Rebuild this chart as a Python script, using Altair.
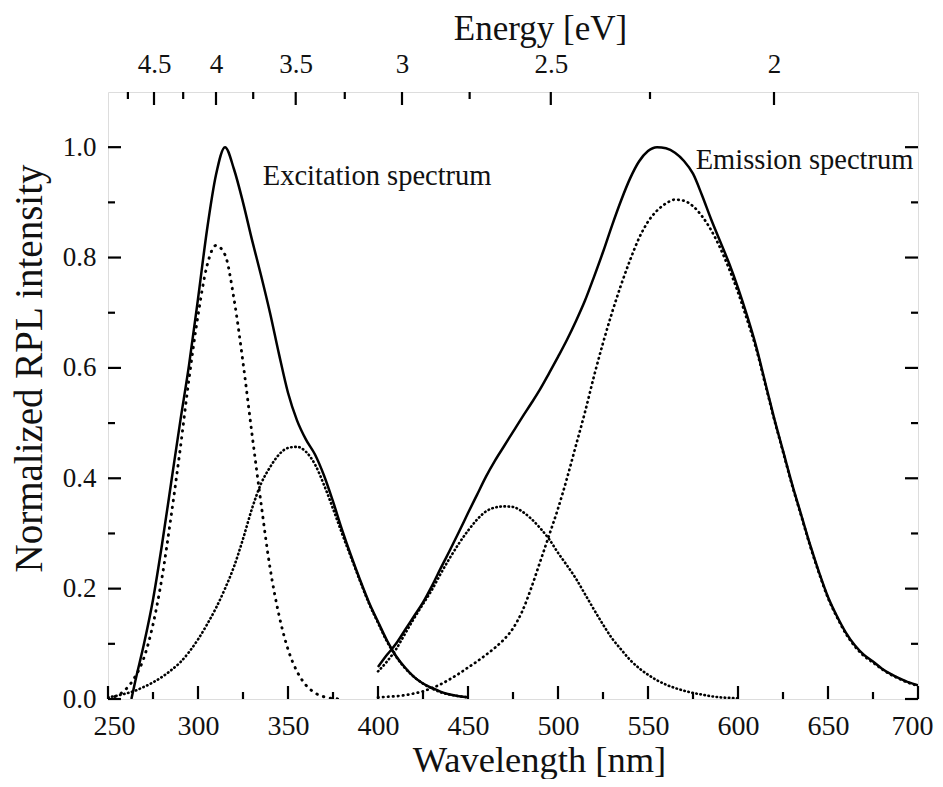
import altair as alt
import pandas as pd

# ---------------- data ----------------
# Excitation, component peaking near 310 nm (dotted)
exA_wl = [250, 255, 260, 265, 270, 275, 280, 285, 290, 295, 300, 305, 310, 315, 320,
          325, 330, 335, 340, 345, 350, 355, 360, 365, 370, 375, 380]
exA_val = [0.002, 0.006, 0.018, 0.04, 0.075, 0.135, 0.22, 0.33, 0.45, 0.58, 0.695, 0.785,
           0.822, 0.805, 0.725, 0.61, 0.48, 0.355, 0.238, 0.152, 0.09, 0.05, 0.025, 0.011,
           0.004, 0.001, 0.0]

# Excitation, component peaking near 353 nm (dotted)
exB_wl = [250, 255, 260, 265, 270, 275, 280, 285, 290, 295, 300, 305, 310, 315, 320,
          325, 330, 335, 340, 345, 350, 355, 360, 365, 370, 375, 380, 385, 390, 395,
          400, 405, 410, 415, 420, 425, 430, 435, 440, 445, 450]
exB_val = [0.003, 0.006, 0.01, 0.015, 0.022, 0.03, 0.04, 0.052, 0.066, 0.085, 0.108,
           0.135, 0.165, 0.2, 0.24, 0.29, 0.345, 0.39, 0.42, 0.443, 0.455, 0.457, 0.448,
           0.425, 0.388, 0.345, 0.3, 0.257, 0.214, 0.173, 0.138, 0.104, 0.077, 0.056,
           0.04, 0.028, 0.019, 0.012, 0.008, 0.005, 0.003]

# Excitation spectrum (solid)
exT_wl = [263, 265, 270, 275, 280, 285, 290, 295, 300, 305, 310, 315, 320, 325, 330,
          335, 340, 345, 350, 355, 360, 365, 370, 375, 380, 385, 390, 395, 400, 405,
          410, 415, 420, 425, 430, 435, 440, 445, 450]
exT_val = [0.0, 0.03, 0.1, 0.18, 0.28, 0.39, 0.5, 0.605, 0.725, 0.85, 0.95, 1.0, 0.96,
           0.9, 0.832, 0.768, 0.7, 0.625, 0.555, 0.505, 0.47, 0.443, 0.405, 0.358, 0.307,
           0.26, 0.216, 0.175, 0.14, 0.106, 0.078, 0.057, 0.04, 0.028, 0.02, 0.013,
           0.008, 0.005, 0.003]

# Emission, component peaking near 470 nm (dotted)
emC_wl = [400, 405, 410, 415, 420, 425, 430, 435, 440, 445, 450, 455, 460, 465, 470,
          475, 480, 485, 490, 495, 500, 505, 510, 515, 520, 525, 530, 535, 540, 545,
          550, 555, 560, 565, 570, 575, 580, 585, 590, 595, 600]
emC_val = [0.05, 0.068, 0.09, 0.118, 0.146, 0.172, 0.198, 0.228, 0.256, 0.282, 0.305,
           0.325, 0.34, 0.347, 0.349, 0.348, 0.34, 0.327, 0.31, 0.29, 0.265, 0.242,
           0.218, 0.19, 0.162, 0.135, 0.11, 0.09, 0.071, 0.056, 0.044, 0.034, 0.026,
           0.02, 0.015, 0.011, 0.008, 0.005, 0.003, 0.002, 0.001]

# Emission, component peaking near 567 nm (dotted)
emD_wl = [400, 405, 410, 415, 420, 425, 430, 435, 440, 445, 450, 455, 460, 465, 470,
          475, 480, 485, 490, 495, 500, 505, 510, 515, 520, 525, 530, 535, 540, 545,
          550, 555, 560, 565, 570, 575, 580, 585, 590, 595, 600, 605, 610, 615, 620,
          625, 630, 635, 640, 645, 650, 655, 660, 665, 670, 675, 680, 685, 690, 695, 700]
emD_val = [0.003, 0.004, 0.005, 0.007, 0.01, 0.014, 0.02, 0.027, 0.036, 0.046, 0.057,
           0.068, 0.08, 0.093, 0.108, 0.128, 0.158, 0.2, 0.248, 0.296, 0.345, 0.4,
           0.46, 0.52, 0.585, 0.645, 0.7, 0.75, 0.795, 0.835, 0.865, 0.885, 0.898, 0.905,
           0.903, 0.893, 0.875, 0.85, 0.818, 0.78, 0.737, 0.688, 0.636, 0.572, 0.508,
           0.448, 0.388, 0.333, 0.278, 0.228, 0.183, 0.148, 0.118, 0.095, 0.078, 0.066,
           0.054, 0.044, 0.036, 0.029, 0.024]

# Emission spectrum (solid)
emT_wl = emD_wl
emT_val = [0.058, 0.08, 0.1, 0.125, 0.15, 0.175, 0.205, 0.238, 0.27, 0.303, 0.337, 0.37,
           0.403, 0.432, 0.458, 0.484, 0.51, 0.535, 0.561, 0.59, 0.62, 0.651, 0.685, 0.722,
           0.765, 0.81, 0.858, 0.903, 0.943, 0.974, 0.993, 1.0, 0.998, 0.99, 0.975, 0.952,
           0.913, 0.87, 0.83, 0.79, 0.745, 0.695, 0.64, 0.575, 0.51, 0.45, 0.39, 0.335,
           0.28, 0.23, 0.185, 0.15, 0.12, 0.097, 0.08, 0.068, 0.055, 0.045, 0.037, 0.03,
           0.025]

# axis ticks / labels
wl_ticks = list(range(250, 701, 25))
wl_labels = list(range(250, 701, 50))
y_ticks = [round(i * 0.1, 1) for i in range(0, 11)]
y_labels = [0.0, 0.2, 0.4, 0.6, 0.8, 1.0]
energy_major = [4.5, 4.0, 3.5, 3.0, 2.5, 2.0]
energy_minor = [4.75, 4.25, 3.75, 3.25, 2.75, 2.25]

annotations = ["Excitation spectrum", "Emission spectrum"]
annot_wl = [336, 576.5]
annot_val = [0.947, 0.977]

# ---------------- chart ----------------
W, H = 810, 607
FONT = "Liberation Serif"
INK = "#111"

def series(wl, val, name):
    return pd.DataFrame({"wl": wl, "v": val, "s": name})

lines = pd.concat([
    series(exA_wl, exA_val, "exA"), series(exB_wl, exB_val, "exB"),
    series(exT_wl, exT_val, "exT"), series(emC_wl, emC_val, "emC"),
    series(emD_wl, emD_val, "emD"), series(emT_wl, emT_val, "emT"),
])

xscale = alt.Scale(domain=[250, 700], nice=False, zero=False)
yscale = alt.Scale(domain=[0, 1.1], nice=False)

xaxis = alt.Axis(values=wl_labels, ticks=False, domain=False, grid=False,
                 title="Wavelength [nm]", titleFontSize=36.5, titleFont=FONT,
                 titleFontWeight="normal", titleColor=INK, titlePadding=2, titleX=431,
                 labelFont=FONT, labelFontSize=28, labelColor=INK, labelPadding=13,
                 labelFlush=True, labelFlushOffset=15)
yaxis = alt.Axis(values=y_labels, format=".1f", ticks=False, domain=False, grid=False,
                 title="Normalized RPL intensity", titleFontSize=39, titleFont=FONT,
                 titleFontWeight="normal", titleColor=INK, titlePadding=13, titleY=276,
                 labelFont=FONT, labelFontSize=27, labelColor=INK, labelPadding=12)

X = alt.X("wl:Q", scale=xscale, axis=xaxis)
Y = alt.Y("v:Q", scale=yscale, axis=yaxis)

base = alt.Chart(lines)

def line_layer(name, dash=None, width=2.5):
    kw = dict(color="black", strokeWidth=width, interpolate="monotone", clip=True)
    if dash is not None:
        kw.update(strokeDash=dash, strokeCap="round")
    return base.transform_filter(alt.datum.s == name).mark_line(**kw).encode(x=X, y=Y)

layers = [
    line_layer("exA", dash=[0.5, 6.5], width=2.9),
    line_layer("exB", dash=[0.5, 3.6], width=2.6),
    line_layer("emC", dash=[0.5, 3.6], width=2.6),
    line_layer("emD", dash=[0.5, 4.5], width=2.7),
    line_layer("exT", width=2.5),
    line_layer("emT", width=2.5),
]

# inward ticks
xt = pd.DataFrame({"wl": wl_ticks, "major": [t % 50 == 0 for t in wl_ticks]})
yt = pd.DataFrame({"v": y_ticks, "major": [round(t * 10) % 2 == 0 for t in y_ticks]})
tick_style = dict(color="black", strokeWidth=2.2)
for major, ln in [(True, 13), (False, 7)]:
    layers.append(alt.Chart(xt).transform_filter(alt.datum.major == major)
                  .mark_rule(**tick_style)
                  .encode(x=X, y=alt.value(H), y2=alt.value(H - ln)))
    layers.append(alt.Chart(yt).transform_filter(alt.datum.major == major)
                  .mark_rule(**tick_style)
                  .encode(y=Y, x=alt.value(0), x2=alt.value(ln)))
    layers.append(alt.Chart(yt).transform_filter(alt.datum.major == major)
                  .mark_rule(**tick_style)
                  .encode(y=Y, x=alt.value(W), x2=alt.value(W - ln)))

# annotations
ann = pd.DataFrame({"label": annotations, "wl": annot_wl, "v": annot_val})
layers.append(alt.Chart(ann).mark_text(align="left", baseline="middle", font=FONT,
                                       fontSize=28.5, color=INK)
              .encode(x=X, y=Y, text="label:N"))

main = alt.layer(*layers)

# top energy axis (E = 1240 / wavelength)
en = pd.DataFrame({"E": energy_major + energy_minor,
                   "major": [True] * len(energy_major) + [False] * len(energy_minor)})
top_axis = alt.Axis(orient="top", values=[1240.0 / e for e in energy_major],
                    labelExpr="toString(round(1240 / datum.value * 100) / 100)",
                    ticks=False, domain=False, grid=False, title="Energy [eV]",
                    titleFontSize=35, titleFont=FONT, titleFontWeight="normal",
                    titleColor=INK, titlePadding=4, titleX=432, labelFont=FONT,
                    labelFontSize=27, labelColor=INK, labelPadding=14, labelFlush=False)
XT = alt.X("nm:Q", scale=alt.Scale(domain=[250, 700], nice=False, zero=False), axis=top_axis)
top_major = (alt.Chart(en).transform_filter(alt.datum.major == True)
             .transform_calculate(nm="1240 / datum.E")
             .mark_rule(**tick_style).encode(x=XT, y=alt.value(0), y2=alt.value(13)))
top_minor = (alt.Chart(en).transform_filter(alt.datum.major == False)
             .transform_calculate(nm="1240 / datum.E")
             .mark_rule(**tick_style).encode(x=XT, y=alt.value(0), y2=alt.value(7)))
top = alt.layer(top_major, top_minor)

chart = (alt.layer(main, top)
         .resolve_scale(x="independent")
         .properties(width=W, height=H, autosize=alt.AutoSizeParams(type="none"),
                     padding={"left": 100, "top": 84, "right": 17, "bottom": 80})
         .configure_view(stroke="black", strokeWidth=2.6)
         .configure(background="white"))

chart.save("out.html", embed_options={"renderer": "svg", "actions": False})
